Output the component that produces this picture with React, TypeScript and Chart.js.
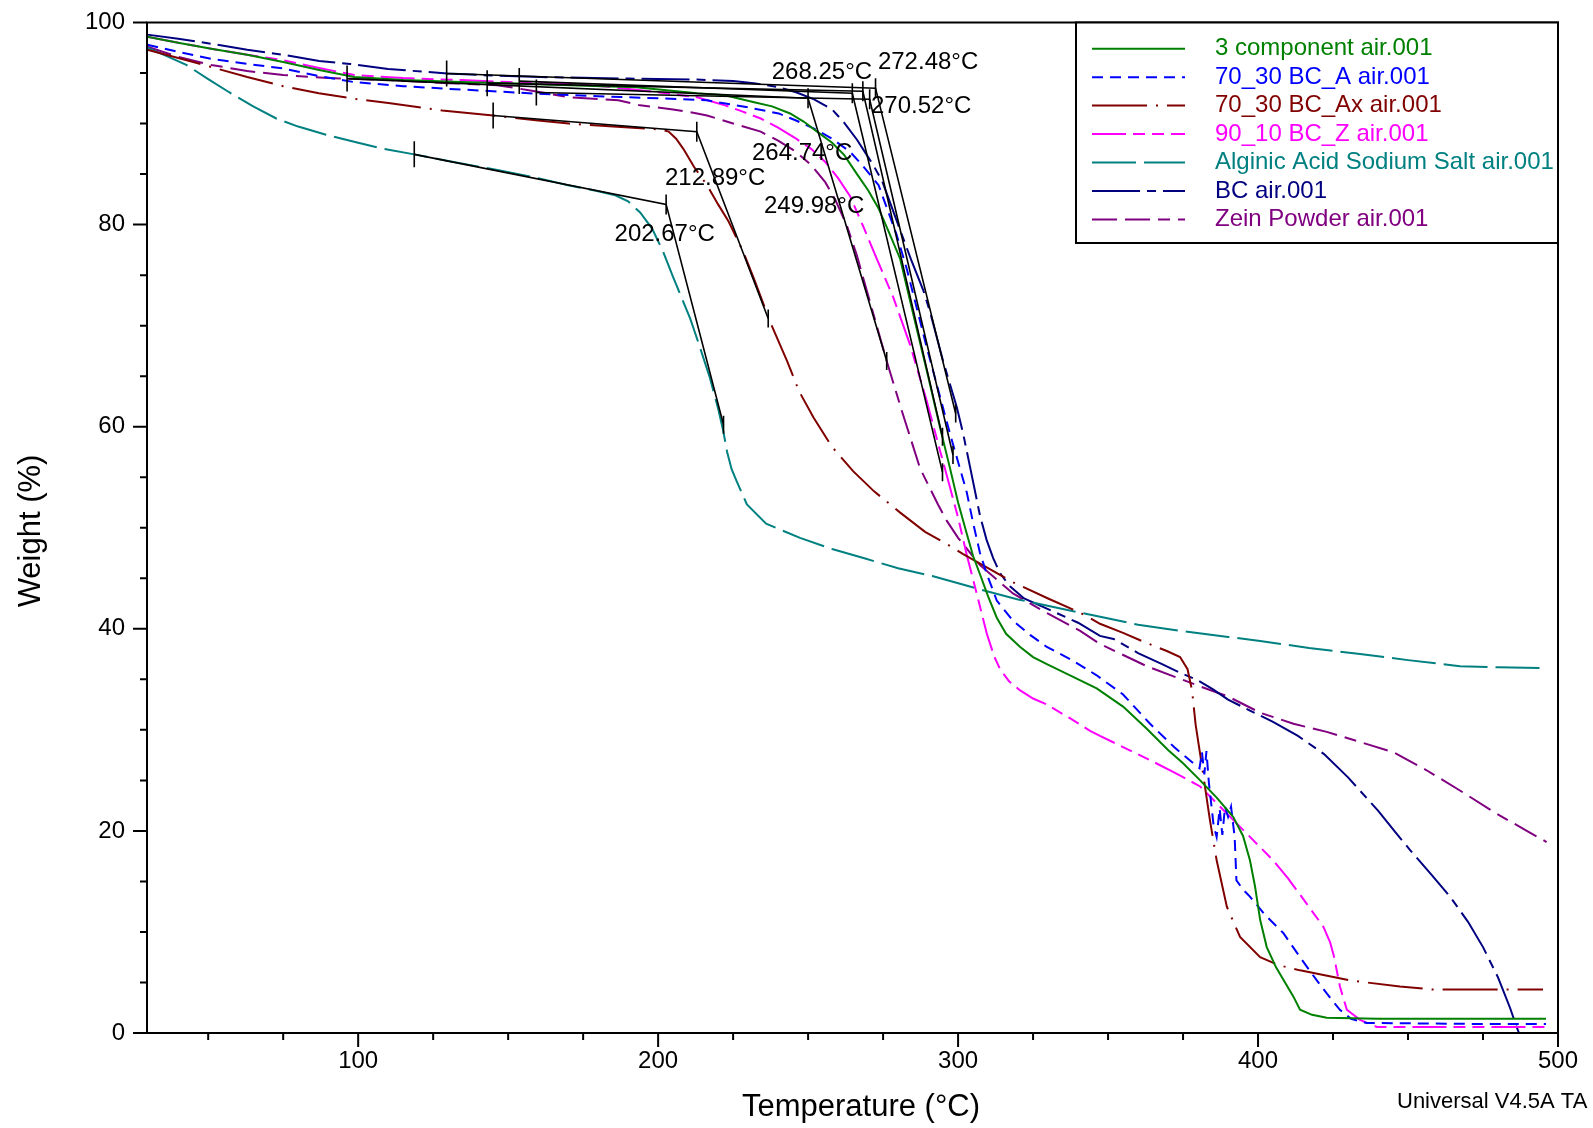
import React, { useEffect, useRef } from "react";
import { Chart, registerables } from "chart.js";

Chart.register(...registerables);

const FONT = '"Liberation Sans", Arial, Helvetica, sans-serif';

// ---------- series meta ----------
const seriesNames = [
  "3 component air.001",
  "70_30 BC_A air.001",
  "70_30 BC_Ax air.001",
  "90_10 BC_Z air.001",
  "Alginic Acid Sodium Salt air.001",
  "BC air.001",
  "Zein Powder air.001",
];
const seriesColors = ["#008000", "#0000FF", "#800000", "#FF00FF", "#008080", "#000080", "#800080"];
const seriesDashes: number[][] = [
  [],
  [11, 7],
  [55, 9, 2, 9],
  [34, 7, 12, 7, 12, 7],
  [44, 8],
  [48, 7, 9, 7],
  [25, 8, 25, 8, 12, 8],
];

// ---------- data: [temperature °C, weight %] ----------
const threeComponent: [number, number][] = [
  [29.7, 98.6], [40, 98.0], [51, 97.4], [63, 96.8], [75, 96.1], [87, 95.3], [98.7, 94.6], [115, 94.3],
  [134.3, 94.1], [150, 94.0], [170.2, 93.8], [192.6, 93.6], [213, 93.0], [222.3, 92.8], [232, 92.1],
  [238, 91.7], [244, 91.0], [248.5, 90.2], [253, 89.2], [258, 88.1], [262, 86.9], [266.3, 85.0],
  [270, 83.4], [273.5, 81.6], [277, 79.2], [280.7, 76.6], [285, 71.2], [290, 65.0], [294, 59.9],
  [297.3, 55.9], [300, 52.5], [302.9, 49.4], [305, 47.2], [307.3, 45.4], [310, 43.2], [312.9, 41.1],
  [316, 39.5], [320.7, 38.2], [325, 37.2], [329.6, 36.5], [338, 35.3], [346.2, 34.1], [355, 32.3],
  [362.9, 30.1], [370, 28.0], [375, 26.7], [380.7, 25.0], [386.2, 23.3], [391.7, 21.4], [395, 19.5],
  [397.3, 17.1], [399, 14.5], [400.7, 11.2], [402.9, 8.5], [406, 6.5], [409, 5.0], [411.8, 3.6],
  [414, 2.3], [418, 1.8], [422.9, 1.5], [440, 1.4], [470, 1.4], [496, 1.4],
];
const bcA: [number, number][] = [
  [29.7, 97.8], [40, 97.1], [51, 96.4], [63, 95.9], [75, 95.45], [87, 94.7], [98.7, 94.1], [115, 93.7],
  [128.5, 93.46], [145, 93.2], [158.3, 92.97], [180, 92.7], [200, 92.5], [216.3, 92.3], [230, 91.6],
  [240.2, 91.0], [246, 90.3], [252, 89.5], [258, 88.5], [264, 87.2], [268, 85.9], [273.5, 83.9],
  [279.5, 79.0], [283, 75.5], [289.6, 67.8], [297.3, 59.3], [300.5, 56.0], [302.9, 53.5], [305, 50.5],
  [307.3, 47.5], [309.6, 45.4], [312.9, 42.8], [318.3, 40.8], [324, 39.4], [329.6, 38.2], [338, 36.9],
  [346.2, 35.4], [355, 33.5], [364, 30.6], [372, 28.3], [378.4, 26.7], [380.5, 26.2], [381.3, 27.8],
  [382.1, 25.6], [382.8, 27.9], [383.6, 24.8], [385.2, 20.5], [386.2, 19.4], [387.2, 22.2], [388.1, 19.6],
  [389, 22.4], [390, 21.4], [391, 22.4], [392.2, 19.4], [392.8, 15.1], [395, 14.2], [397.3, 13.5],
  [402, 11.8], [408.4, 9.9], [414, 7.5], [419.6, 5.2], [424, 3.5], [427.3, 2.3], [431, 1.4],
  [436.2, 1.0], [470, 0.9], [496, 0.9],
];
const bcAx: [number, number][] = [
  [29.7, 97.3], [45, 96.1], [63, 94.6], [75, 93.7], [86.9, 93.0], [100, 92.4], [110.7, 92.0], [128, 91.3],
  [145, 90.8], [160, 90.3], [170.2, 90.0], [185, 89.7], [196.4, 89.5], [200.9, 89.4], [203.5, 89.2],
  [206, 88.5], [208.4, 87.5], [212, 85.7], [216.3, 83.9], [220, 82.0], [223.5, 80.3], [228.4, 77.3],
  [232, 74.6], [237.3, 70.4], [243, 66.5], [247, 63.5], [251.8, 60.9], [258, 58.0], [265, 55.6],
  [272, 53.6], [280.7, 51.5], [289, 49.6], [297.3, 48.2], [301.7, 47.4], [310, 46.0], [318.3, 44.6],
  [330, 43.0], [340.7, 41.6], [347.3, 40.5], [355, 39.6], [362, 38.7], [369.6, 37.8], [374, 37.2],
  [376.5, 36.0], [378, 33.9], [379.2, 30.5], [380.7, 27.6], [384, 21.0], [386.2, 17.1], [389.6, 12.5],
  [394, 9.5], [400.7, 7.5], [407, 6.7], [414, 6.2], [430.7, 5.2], [447.3, 4.6], [458.3, 4.3], [495, 4.3],
];
const bcZ: [number, number][] = [
  [29.7, 98.6], [40, 98.0], [51, 97.4], [63, 96.8], [75, 96.27], [87, 95.5], [98.7, 94.8], [115, 94.5],
  [134.3, 94.3], [150, 94.1], [170.2, 93.96], [185, 93.6], [198.5, 93.14], [213, 92.6], [222.3, 91.8],
  [228, 91.2], [234.2, 90.5], [240, 89.6], [246, 88.5], [251, 87.5], [255.7, 86.2], [260, 84.6],
  [264, 82.8], [268.7, 79.6], [272.9, 76.6], [278.4, 72.8], [284, 68.1], [289.6, 62.5], [294, 57.6],
  [297.3, 54.0], [300, 51.0], [302.9, 47.3], [306.2, 43.5], [309.6, 39.5], [312, 37.3], [314, 36.0],
  [317, 34.8], [320.7, 33.9], [325, 33.1], [329.6, 32.5], [337, 31.2], [344, 29.9], [347.3, 29.4],
  [355, 28.3], [364, 27.0], [372, 25.8], [380.7, 24.4], [387, 22.5], [394, 20.4], [400, 18.6],
  [405, 17.1], [410, 15.3], [416.2, 12.8], [421.8, 10.5], [424, 9.0], [425.3, 7.6], [427.3, 4.6],
  [429.6, 2.3], [434, 1.3], [439.6, 0.6], [470, 0.6], [496, 0.6],
];
const alginate: [number, number][] = [
  [29.7, 97.5], [36, 96.7], [42.7, 95.8], [50, 94.4], [57, 93.1], [65, 91.7], [72.7, 90.5], [80, 89.7],
  [89.3, 88.9], [100, 88.1], [108.3, 87.5], [118.7, 86.95], [130, 86.3], [146.4, 85.4], [160, 84.6],
  [170, 83.9], [180, 83.3], [185.7, 82.9], [190, 82.3], [194, 81.2], [198, 79.6], [201.7, 77.3],
  [205, 74.8], [210.7, 70.7], [214, 67.8], [217.3, 64.8], [220, 61.8], [221.7, 59.6], [223, 57.5],
  [224.5, 55.8], [226.2, 54.6], [229.6, 52.3], [236, 50.4], [247.3, 49.0], [258, 47.9], [269.6, 46.9],
  [280, 46.0], [291.7, 45.2], [307.3, 43.9], [320, 42.9], [340.7, 41.6], [360, 40.4], [374, 39.8],
  [390, 39.2], [400.7, 38.8], [417, 38.1], [434, 37.5], [450, 36.9], [467.3, 36.3], [480, 36.2], [496, 36.1],
];
const bc: [number, number][] = [
  [29.7, 98.8], [40, 98.4], [51, 97.9], [63, 97.3], [75, 96.8], [87, 96.2], [97.3, 95.9], [110, 95.4],
  [129.7, 94.95], [145, 94.75], [158.3, 94.62], [190, 94.45], [213, 94.35], [225, 94.2], [231.9, 94.0],
  [240, 93.6], [246, 93.1], [252, 92.4], [258, 91.4], [262, 90.1], [266.3, 88.4], [271.7, 85.9],
  [274.7, 84.3], [278.4, 81.3], [281, 79.2], [284.5, 76.4], [288.4, 73.5], [290.7, 71.3], [295, 66.5],
  [299.6, 61.9], [301.7, 59.3], [304, 56.0], [307.3, 51.2], [309.5, 48.8], [311.7, 47.0], [314, 45.5],
  [317.3, 44.2], [322, 43.0], [329.6, 42.0], [340, 40.6], [347.3, 39.3], [351.8, 39.0], [360, 37.6],
  [368, 36.5], [374.4, 35.6], [380, 34.9], [385, 34.0], [390, 33.0], [397.3, 31.9], [405, 30.8],
  [413.3, 29.4], [422, 27.6], [430, 25.3], [440, 22.0], [445.7, 19.9], [450.7, 18.1], [458, 15.6],
  [464, 13.5], [470, 11.0], [475, 8.5], [480, 5.5], [484, 2.5], [486.2, 0.6], [487, 0.0],
];
const zein: [number, number][] = [
  [29.7, 97.6], [40, 96.6], [51, 95.8], [63, 95.2], [75, 94.8], [90, 94.5], [110.7, 94.3], [130, 94.0],
  [146.3, 93.8], [156.9, 93.3], [170.2, 92.6], [186.7, 92.3], [194, 91.8], [205, 91.4], [213, 91.0],
  [216.3, 90.8], [225, 90.0], [234.2, 89.2], [240, 88.3], [246, 87.2], [251, 85.9], [255.7, 84.2],
  [259, 82.5], [262.8, 80.0], [266.2, 77.0], [270, 73.0], [276.2, 66.5], [281, 61.8], [287.3, 55.9],
  [293.3, 52.3], [296.2, 50.7], [300, 49.0], [307.3, 46.3], [318.3, 43.5], [330, 41.5], [340.7, 39.8],
  [347.3, 38.5], [362.9, 36.3], [380.7, 34.3], [390, 33.3], [400.7, 31.7], [411.8, 30.6], [422.9, 29.8],
  [434, 28.8], [445, 27.8], [456.2, 26.0], [467.3, 24.0], [478.4, 21.9], [489.6, 20.0], [496.2, 18.9],
];
const seriesData = [threeComponent, bcA, bcAx, bcZ, alginate, bc, zein];

// ---------- onset analysis (baseline start, onset, tangent end) ----------
const onsetConstructions: [number, number][][] = [
  [[118.7, 86.95], [202.67, 82.0], [221.8, 60.2]],
  [[145, 90.8], [212.89, 89.2], [236.7, 70.7]],
  [[96.3, 94.45], [249.98, 92.5], [276.2, 66.5]],
  [[153.7, 94.2], [264.74, 93.0], [294.8, 55.5]],
  [[143, 94.0], [268.25, 93.2], [294.8, 59.0]],
  [[159.4, 93.07], [270.52, 92.4], [298.3, 57.2]],
  [[129.5, 94.95], [272.48, 93.5], [299.2, 61.3]],
];
const onsetLabels = ["202.67°C", "212.89°C", "249.98°C", "264.74°C", "268.25°C", "270.52°C", "272.48°C"];
const onsetLabelT = [202.2, 219, 252, 248, 254.6, 287.7, 290];
const onsetLabelW = [79.0, 84.6, 81.8, 87.0, 95.1, 91.7, 96.1];

// ---------- axes ----------
const xMajorTicks = [100, 200, 300, 400, 500];
const xMinorTicks = [50, 75, 125, 150, 175, 225, 250, 275, 325, 350, 375, 425, 450, 475];
const yMajorTicks = [0, 20, 40, 60, 80, 100];
const yMinorTicks = [5, 10, 15, 25, 30, 35, 45, 50, 55, 65, 70, 75, 85, 90, 95];
const xTitle = "Temperature (°C)";
const yTitle = "Weight (%)";
const footerText = "Universal V4.5A TA Instruments";

const decorPlugin = {
  id: "decor",
  afterDraw(chart: any) {
    const ctx: CanvasRenderingContext2D = chart.ctx;
    const { left, right, top, bottom } = chart.chartArea;
    const xs = chart.scales.x;
    const ys = chart.scales.y;
    ctx.save();

    // onset labels
    ctx.fillStyle = "#000";
    ctx.font = `24px ${FONT}`;
    ctx.textAlign = "center";
    ctx.textBaseline = "middle";
    onsetLabels.forEach((t, i) => {
      ctx.fillText(t, xs.getPixelForValue(onsetLabelT[i]), ys.getPixelForValue(onsetLabelW[i]));
    });

    // frame
    ctx.strokeStyle = "#000";
    ctx.lineWidth = 2;
    ctx.setLineDash([]);
    ctx.strokeRect(left, top, right - left, bottom - top);

    // ticks
    ctx.lineWidth = 2;
    ctx.beginPath();
    xMajorTicks.forEach((v) => {
      const x = xs.getPixelForValue(v);
      ctx.moveTo(x, bottom);
      ctx.lineTo(x, bottom + 14);
    });
    xMinorTicks.forEach((v) => {
      const x = xs.getPixelForValue(v);
      ctx.moveTo(x, bottom);
      ctx.lineTo(x, bottom + 7);
    });
    yMajorTicks.forEach((v) => {
      const y = ys.getPixelForValue(v);
      ctx.moveTo(left, y);
      ctx.lineTo(left - 14, y);
    });
    yMinorTicks.forEach((v) => {
      const y = ys.getPixelForValue(v);
      ctx.moveTo(left, y);
      ctx.lineTo(left - 7, y);
    });
    ctx.stroke();

    // tick labels
    ctx.fillStyle = "#000";
    ctx.font = `24px ${FONT}`;
    ctx.textAlign = "center";
    ctx.textBaseline = "middle";
    xMajorTicks.forEach((v) => ctx.fillText(String(v), xs.getPixelForValue(v), bottom + 28));
    ctx.textAlign = "right";
    yMajorTicks.forEach((v) => ctx.fillText(String(v), left - 22, ys.getPixelForValue(v)));

    // titles
    ctx.font = `31px ${FONT}`;
    ctx.textAlign = "center";
    ctx.fillText(xTitle, 861, 1107);
    ctx.save();
    ctx.translate(31, 531);
    ctx.rotate(-Math.PI / 2);
    ctx.fillText(yTitle, 0, 0);
    ctx.restore();

    // footer
    ctx.font = `22px ${FONT}`;
    ctx.textAlign = "left";
    ctx.fillText(footerText, 1397, 1102);

    // legend
    const lx = 1076;
    const ly = top;
    const lb = 243;
    ctx.fillStyle = "#fff";
    ctx.fillRect(lx, ly, right - lx, lb - ly);
    ctx.strokeStyle = "#000";
    ctx.lineWidth = 2;
    ctx.strokeRect(lx, ly, right - lx, lb - ly);
    ctx.font = `24px ${FONT}`;
    ctx.textBaseline = "middle";
    seriesNames.forEach((name, i) => {
      const y = 48.7 + i * 28.45;
      ctx.strokeStyle = seriesColors[i];
      ctx.lineWidth = 2;
      ctx.setLineDash(seriesDashes[i]);
      ctx.beginPath();
      ctx.moveTo(1092, y);
      ctx.lineTo(1185, y);
      ctx.stroke();
      ctx.setLineDash([]);
      ctx.fillStyle = seriesColors[i];
      ctx.save();
      ctx.beginPath();
      ctx.rect(lx, ly, right - lx - 1, lb - ly);
      ctx.clip();
      ctx.fillText(name, 1215, y);
      ctx.restore();
    });

    ctx.restore();
  },
};

export default function App() {
  const ref = useRef<HTMLCanvasElement>(null);
  useEffect(() => {
    if (!ref.current) return;
    const curveSets = seriesData.map((pts, i) => ({
      label: seriesNames[i],
      data: pts.map(([x, y]) => ({ x, y })),
      borderColor: seriesColors[i],
      backgroundColor: seriesColors[i],
      borderWidth: 2,
      borderDash: seriesDashes[i],
      pointRadius: 0,
      tension: 0,
      fill: false,
      order: 2,
    }));
    const tangentSets = onsetConstructions.map((pts) => ({
      label: "onset",
      data: pts.map(([x, y]) => ({ x, y })),
      borderColor: "#000",
      borderWidth: 1.6,
      pointRadius: 0,
      tension: 0,
      fill: false,
      order: 1,
    }));
    const markerSet = (idx: number, r: number) => ({
      label: "marks",
      data: onsetConstructions.map((pts) => ({ x: pts[idx][0], y: pts[idx][1] })),
      showLine: false,
      pointStyle: "line",
      pointRotation: 90,
      pointRadius: r,
      pointBorderColor: "#000",
      pointBorderWidth: 1.6,
      borderColor: "#000",
      order: 0,
    });
    const chart = new Chart(ref.current, {
      type: "line",
      data: {
        datasets: [
          ...curveSets,
          ...tangentSets,
          markerSet(0, 13),
          markerSet(1, 10),
          markerSet(2, 9),
        ] as any,
      },
      options: {
        responsive: false,
        animation: false,
        devicePixelRatio: 1,
        layout: { padding: { left: 147, right: 35, top: 22.5, bottom: 95 } },
        scales: {
          x: { type: "linear", min: 29.6, max: 500, display: false },
          y: { type: "linear", min: 0, max: 100, display: false },
        },
        plugins: {
          legend: { display: false },
          tooltip: { enabled: false },
        },
        events: [],
      } as any,
      plugins: [decorPlugin],
    });
    return () => chart.destroy();
  }, []);
  return (
    <div style={{ position: "fixed", left: 0, top: 0, width: 1593, height: 1128, background: "#fff" }}>
      <canvas ref={ref} width={1593} height={1128} style={{ display: "block" }} />
    </div>
  );
}
